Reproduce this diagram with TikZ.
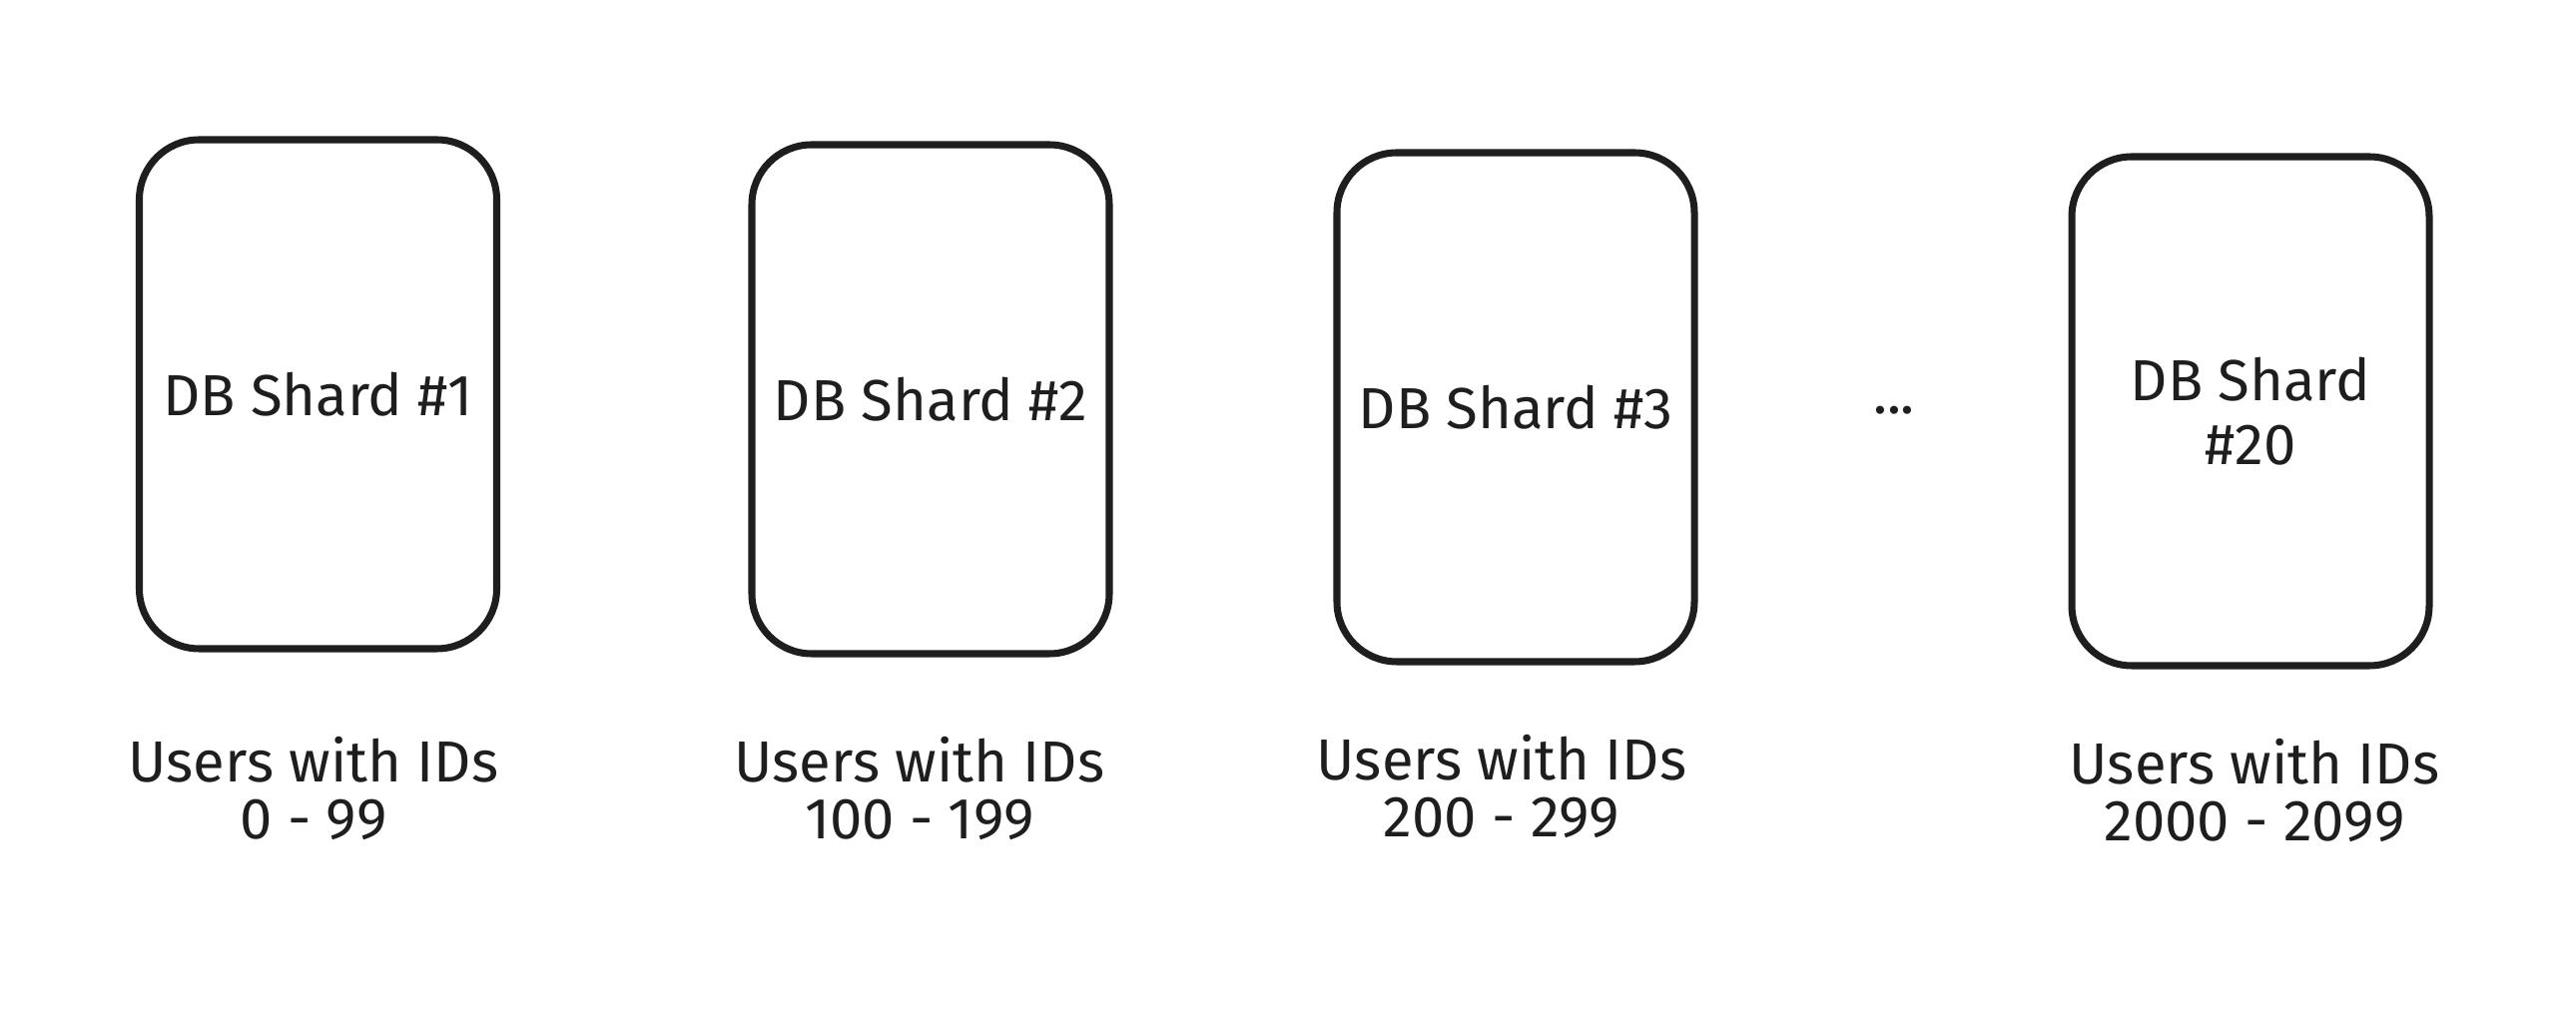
\documentclass[tikz,border=0pt]{standalone}
\usepackage{fontspec}
\setmainfont{Fira Sans}
\definecolor{ink}{HTML}{1E1E1E}
\begin{document}
\begin{tikzpicture}[
    shard/.style={draw=ink,line width=2pt,rounded corners=0.6cm,minimum width=3.58cm,minimum height=5.1cm,align=center,text=ink,font=\fontsize{16.5}{18}\selectfont},
    users/.style={align=center,text=ink,font=\fontsize{16.5}{16}\selectfont}
  ]
  \useasboundingbox (0,0) rectangle (25.8,10.16);
  \node[shard] (shard1) at (3.185,6.21) {DB Shard \#1};
  \node[shard] (shard2) at (9.32,6.16) {DB Shard \#2};
  \node[shard] (shard3) at (15.18,6.08) {DB Shard \#3};
  \node[shard] (shard20) at (22.54,6.04) {DB Shard\\\#20};
  \node[text=ink,font=\fontsize{16.5}{16}\selectfont] (dots) at (18.97,6.05) {...};
  \node[users] (users1) at (3.14,2.26) {Users with IDs\\0 - 99};
  \node[users] (users2) at (9.21,2.26) {Users with IDs\\100 - 199};
  \node[users] (users3) at (15.04,2.28) {Users with IDs\\200 - 299};
  \node[users] (users20) at (22.58,2.24) {Users with IDs\\2000 - 2099};
\end{tikzpicture}
\end{document}
